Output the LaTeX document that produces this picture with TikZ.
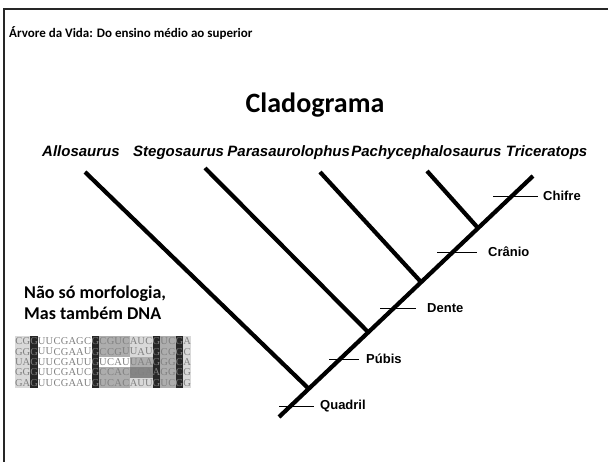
\documentclass[tikz,border=0pt]{standalone}
\usepackage{fontspec}
\setmainfont{Carlito}
\newfontfamily\arialfont{Liberation Sans}
\newfontfamily\timesfont{Liberation Serif}
\usetikzlibrary{positioning}
\colorlet{dnaS0}{white}
\colorlet{dnaS1}{black!15}
\colorlet{dnaS2}{black!32}
\colorlet{dnaS3}{black!48}
\colorlet{dnaS9}{black!85}

\begin{document}
\begin{tikzpicture}[x=1pt, y=-1pt,
    branch/.style={line width=4.2pt},
    tick/.style={line width=0.9pt},
    species/.style={inner sep=0, font=\arialfont\bfseries\itshape\fontsize{15}{18}\selectfont},
    trait/.style={inner sep=0, font=\arialfont\bfseries\fontsize{13}{15}\selectfont},
    dnachar/.style={inner sep=0, text=black!50, font=\timesfont\fontsize{10.5}{10.5}\selectfont}]
    \useasboundingbox (0,0) rectangle (608,462);
    \draw[line width=2pt, black!85] (4.3,462) -- (4.3,9.3) -- (608,9.3);

    \node (title) [anchor=base west, inner sep=0, font=\bfseries\fontsize{13}{15}\selectfont] at (9,38) {Árvore da Vida: Do ensino médio ao superior};
    \node (clado) [inner sep=0, font=\bfseries\fontsize{28}{30}\selectfont] at (315,105) {Cladograma};

    \node (allo) [species, anchor=base west] at (42,157) {Allosaurus};
    \node (stego) [species, anchor=base west] at (133,157) {Stegosaurus};
    \node (para) [species, base right=3pt of stego] {Parasaurolophus};
    \node (pachy) [species, base right=1pt of para] {Pachycephalosaurus};
    \node (tric) [species, base right=4pt of pachy] {Triceratops};

    \coordinate (root) at (279,417);
    \coordinate (tricTip) at (533,176);
    \coordinate (alloTip) at (85,172);
    \coordinate (alloJ) at (309,389);
    \coordinate (stegoTip) at (205,168);
    \coordinate (stegoJ) at (368,332);
    \coordinate (paraTip) at (320,172);
    \coordinate (paraJ) at (421,282);
    \coordinate (pachyTip) at (427,171);
    \coordinate (pachyJ) at (478,228);
    \draw[branch] (root) -- (tricTip);
    \draw[branch] (alloTip) -- (alloJ);
    \draw[branch] (stegoTip) -- (stegoJ);
    \draw[branch] (paraTip) -- (paraJ);
    \draw[branch] (pachyTip) -- (pachyJ);

    \coordinate (quadrilL) at (279,406);
    \coordinate (quadrilR) at (314,406);
    \coordinate (pubisL) at (329,359);
    \coordinate (pubisR) at (359,359);
    \coordinate (denteL) at (380,308);
    \coordinate (denteR) at (416,308);
    \coordinate (cranioL) at (437,252);
    \coordinate (cranioR) at (477,252);
    \coordinate (chifreL) at (493,196);
    \coordinate (chifreR) at (538,196);
    \node (quadril) [trait, right=6pt of quadrilR] {Quadril};
    \node (pubis) [trait, right=7pt of pubisR] {Púbis};
    \node (dente) [trait, right=11pt of denteR] {Dente};
    \node (cranio) [trait, right=11pt of cranioR] {Crânio};
    \node (chifre) [trait, right=5pt of chifreR] {Chifre};
    \draw[tick] (quadrilL) -- (quadrilR);
    \draw[tick] (pubisL) -- (pubisR);
    \draw[tick] (denteL) -- (denteR);
    \draw[tick] (cranioL) -- (cranioR);
    \draw[tick] (chifreL) -- (chifreR);

    \node (dna1) [anchor=base west, inner sep=0, font=\bfseries\fontsize{18}{21}\selectfont] at (24,299) {Não só morfologia,};
    \node (dna2) [anchor=base west, inner sep=0, font=\bfseries\fontsize{18}{21}\selectfont] at (24,320) {Mas também DNA};

    \foreach \shades [count=\r] in {
        {1,1,9,0,0,0,0,0,0,0,9,2,2,2,2,1,1,1,9,2,2,9,1},
        {1,1,9,0,0,0,0,0,0,0,9,2,2,2,2,1,1,1,9,2,2,9,1},
        {1,1,9,0,0,0,0,0,0,0,9,0,0,0,0,2,2,2,9,2,2,9,1},
        {1,1,9,0,0,0,0,0,0,0,9,2,2,2,2,3,3,3,9,2,2,9,1},
        {1,1,9,0,0,0,0,0,0,0,9,2,2,2,2,1,1,1,9,2,2,9,1}}
      \foreach \s [count=\c] in \shades
        \fill[dnaS\s] ({15+(\c-1)*7.65},{336+(\r-1)*10.4}) rectangle ++(7.65,10.4);

    \foreach \letters [count=\r] in {
        {C,G,G,U,U,C,G,A,G,C,G,C,G,U,C,A,U,C,G,U,C,G,A},
        {G,G,G,U,U,C,G,A,A,U,G,C,C,G,U,U,A,U,G,C,G,G,C},
        {U,A,G,U,U,C,G,A,U,U,G,U,C,A,U,U,A,A,G,G,G,C,A},
        {G,G,G,U,U,C,G,A,U,C,G,C,C,A,C,G,G,A,A,G,G,C,G},
        {G,A,G,U,U,C,G,A,A,U,G,U,C,A,C,A,U,U,G,U,C,G,G}}
      \foreach \ch [count=\c] in \letters
        \node (n-\r-\c) [dnachar] at ({15+(\c-0.5)*7.65},{336+(\r-0.5)*10.4}) {\ch};
\end{tikzpicture}
\end{document}
